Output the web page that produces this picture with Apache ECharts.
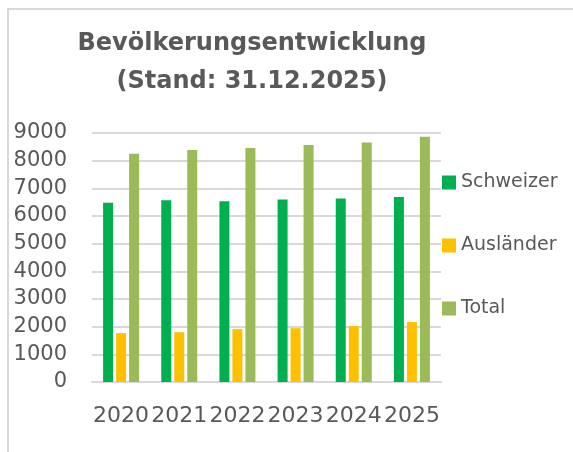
<!DOCTYPE html>
<html>
<head>
<meta charset="utf-8">
<script src="https://cdn.jsdelivr.net/npm/echarts@6/dist/echarts.min.js"></script>
<style>
  html, body { margin: 0; padding: 0; background: #fff; }
  #chart { width: 573px; height: 452px; }
</style>
</head>
<body>
<div id="chart"></div>
<script>
// Daten
var jahre = ["2020", "2021", "2022", "2023", "2024", "2025"];
var schweizer = [6475, 6570, 6535, 6595, 6630, 6690];
var auslaender = [1765, 1800, 1910, 1945, 2020, 2165];
var total = [8250, 8385, 8455, 8565, 8660, 8865];
var yTicks = [0, 1000, 2000, 3000, 4000, 5000, 6000, 7000, 8000, 9000];

var textColor = "#595959";
var fontName = "DejaVu Sans";

var chart = echarts.init(document.getElementById("chart"));

function makeSeries(name, data, color) {
    return {
        name: name,
        type: "bar",
        data: data,
        barWidth: 10,
        barGap: "30%",
        itemStyle: { color: color },
        emphasis: { disabled: true }
    };
}

chart.setOption({
    animation: false,
    backgroundColor: "#ffffff",
    title: {
        text: "Bevölkerungsentwicklung\n(Stand: 31.12.2025)",
        left: 252,
        top: 25,
        padding: 0,
        textAlign: "center",
        textStyle: {
            fontFamily: fontName,
            fontWeight: "bold",
            fontSize: 24,
            lineHeight: 38,
            color: textColor
        }
    },
    legend: {
        orient: "vertical",
        left: 442,
        top: 173,
        padding: 0,
        itemWidth: 14,
        itemHeight: 14,
        itemGap: 44,
        icon: "rect",
        textStyle: { fontFamily: fontName, fontSize: 19, color: textColor },
        data: ["Schweizer", "Ausländer", "Total"]
    },
    grid: { left: 92, right: 132, top: 133, bottom: 70, containLabel: false },
    xAxis: {
        type: "category",
        data: jahre,
        axisTick: { show: false },
        axisLine: { lineStyle: { color: "#d9d9d9", width: 2 } },
        axisLabel: { interval: 0, fontFamily: fontName, fontSize: 22, color: textColor, margin: 23 }
    },
    yAxis: {
        type: "value",
        min: yTicks[0],
        max: yTicks[yTicks.length - 1],
        interval: 1000,
        axisLine: { show: false },
        axisTick: { show: false },
        splitLine: { lineStyle: { color: "#d9d9d9", width: 2 } },
        axisLabel: {
            fontFamily: fontName, fontSize: 21, color: textColor, margin: 25,
            formatter: function (v) { return String(v); }
        }
    },
    graphic: [{
        type: "rect",
        shape: { x: 8, y: 9, width: 700, height: 600 },
        style: { fill: "none", stroke: "#d9d9d9", lineWidth: 2 },
        silent: true
    }],
    series: [
        makeSeries("Schweizer", schweizer, "#00b050"),
        makeSeries("Ausländer", auslaender, "#ffc000"),
        makeSeries("Total", total, "#9bbb59")
    ]
});
</script>
</body>
</html>
